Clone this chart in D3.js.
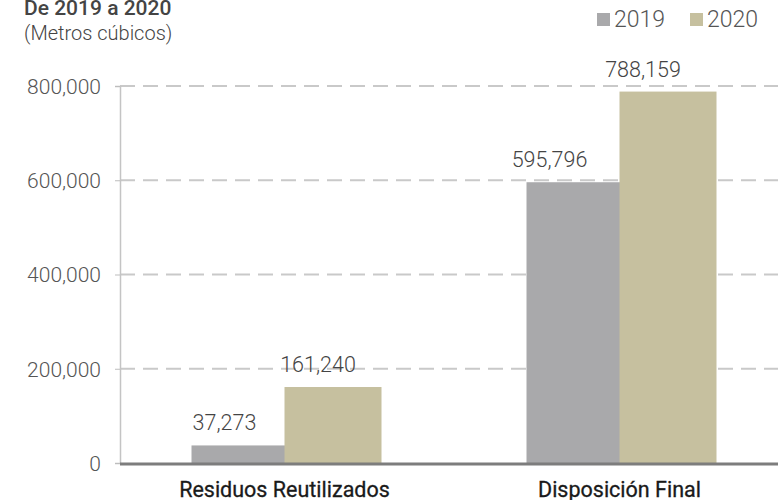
<!DOCTYPE html>
<html><head><meta charset="utf-8">
<script src="https://cdn.jsdelivr.net/npm/d3@7"></script>
<style>body{margin:0;background:#fff}svg{display:block}</style>
</head><body>
<svg id="chart" width="778" height="500"></svg>
<script>
const categories = ["Residuos Reutilizados", "Disposición Final"];
const years = ["2019", "2020"];
const values2019 = [37273, 595796];
const values2020 = [161240, 788159];
const yTicks = [0, 200000, 400000, 600000, 800000];

const colors = {"2019": "#a9a9ab", "2020": "#c6c09f"};
const svg = d3.select("#chart");
const font = "Roboto, 'Noto Sans', sans-serif";

const y = d3.scaleLinear().domain([0, 800000]).range([463, 86]);
const x = d3.scaleBand().domain(categories).range([117, 787]);

// grid lines
svg.append("g").selectAll("line").data(yTicks.slice(1)).join("line")
  .attr("x1", 120).attr("x2", 778)
  .attr("y1", d => y(d)).attr("y2", d => y(d))
  .attr("stroke", "#c9c9c9").attr("stroke-width", 2)
  .attr("stroke-dasharray", "15,8");

// y axis
const yAxis = d3.axisLeft(y).tickValues(yTicks).tickSize(5).tickPadding(14)
  .tickFormat(d3.format(","));
const ga = svg.append("g").attr("transform", "translate(120,0)").call(yAxis);
ga.select(".domain").attr("stroke", "#c4c4c4").attr("stroke-width", 1.5);
ga.selectAll(".tick line").attr("stroke", "#bdbdbd");
ga.selectAll(".tick text").attr("font-family", font).attr("font-weight", 300)
  .attr("font-size", 21).attr("fill", "#555").attr("dy", "0.35em");

// bars with value labels
const rows = categories.map((c, i) => ({cat: c, v: {"2019": values2019[i], "2020": values2020[i]}}));
const offsets = {"2019": [-93, 96], "2020": [0, 97]};
const labelShift = [-15, -25];
rows.forEach((r, i) => {
  const c = x(r.cat) + x.bandwidth() / 2;
  years.forEach(yr => {
    const [dx, w] = offsets[yr];
    const v = r.v[yr];
    svg.append("rect").attr("x", c + dx).attr("width", w)
      .attr("y", y(v)).attr("height", y(0) - y(v))
      .attr("fill", colors[yr]);
    svg.append("text").attr("x", c + dx + w / 2 + labelShift[i]).attr("y", y(v) - 15)
      .attr("text-anchor", "middle").attr("font-family", font).attr("font-weight", 300)
      .attr("font-size", 21.5).attr("fill", "#444").text(d3.format(",")(v));
  });
});

// baseline
svg.append("line").attr("x1", 120).attr("x2", 778).attr("y1", y(0) + 1).attr("y2", y(0) + 1)
  .attr("stroke", "#7d7d7d").attr("stroke-width", 3);

// category labels
svg.append("g").selectAll("text").data(categories).join("text")
  .attr("x", d => x(d) + x.bandwidth() / 2).attr("y", 497)
  .attr("text-anchor", "middle").attr("font-family", font).attr("font-size", 21.5)
  .attr("fill", "#1a1a1a").attr("stroke", "#1a1a1a").attr("stroke-width", 0.3)
  .text(d => d);

// titles
svg.append("text").attr("x", 24).attr("y", 15).attr("font-family", font)
  .attr("font-weight", 500).attr("font-size", 21).attr("fill", "#444").text("De 2019 a 2020");
svg.append("text").attr("x", 24).attr("y", 40).attr("font-family", font)
  .attr("font-weight", 300).attr("font-size", 20).attr("fill", "#444").text("(Metros cúbicos)");

// legend
const legX = {"2019": 597, "2020": 690};
years.forEach(yr => {
  svg.append("rect").attr("x", legX[yr]).attr("y", 13).attr("width", 13).attr("height", 13)
    .attr("fill", colors[yr]);
  svg.append("text").attr("x", legX[yr] + 17).attr("y", 27).attr("font-family", font)
    .attr("font-weight", 300).attr("font-size", 23).attr("fill", "#555").text(yr);
});
</script>
</body></html>
